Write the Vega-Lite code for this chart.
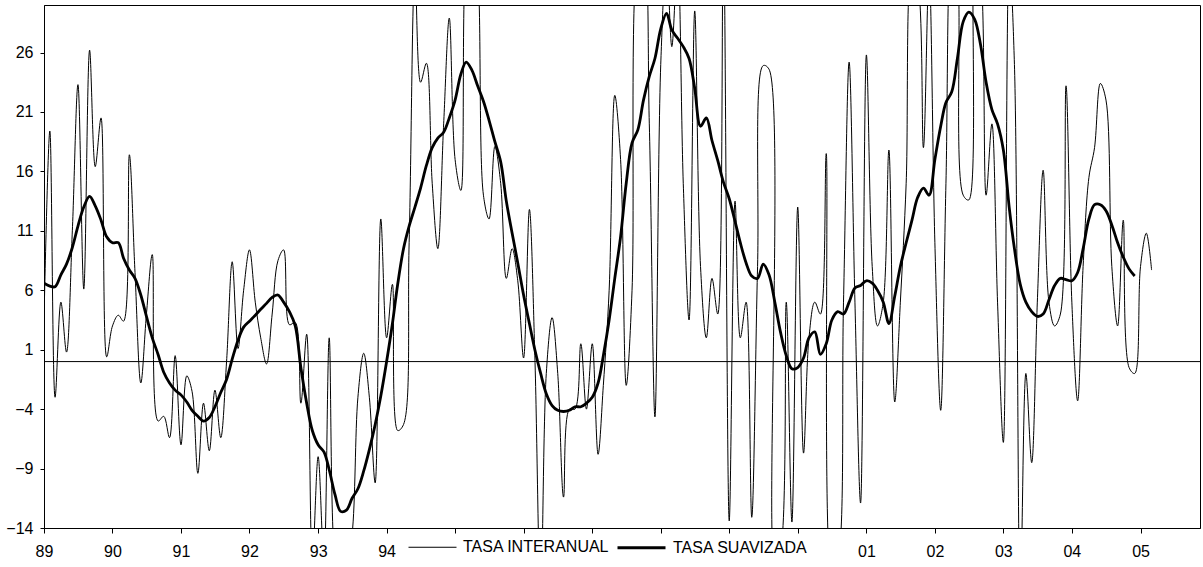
{
"$schema":"https://vega.github.io/schema/vega-lite/v6.json",
"width":1156,"height":523,
"autosize":{"type":"none"},
"padding":{"left":44,"top":5,"right":3,"bottom":39},
"background":"white",
"config":{"view":{"stroke":"#000","strokeWidth":1},"font":"Liberation Sans"},
"layer":[
{"data":{"values":[
{"fecha":"1989-01-01","interanual":3.5,"suavizada":6.6},
{"fecha":"1989-02-01","interanual":19.4,"suavizada":6.35},
{"fecha":"1989-03-01","interanual":-3.0,"suavizada":6.3},
{"fecha":"1989-04-01","interanual":5.0,"suavizada":7.3},
{"fecha":"1989-05-01","interanual":0.8,"suavizada":8.2},
{"fecha":"1989-06-01","interanual":11.0,"suavizada":9.6},
{"fecha":"1989-07-01","interanual":23.3,"suavizada":11.4},
{"fecha":"1989-08-01","interanual":6.1,"suavizada":13.0},
{"fecha":"1989-09-01","interanual":26.2,"suavizada":13.9},
{"fecha":"1989-10-01","interanual":16.4,"suavizada":13.1},
{"fecha":"1989-11-01","interanual":20.5,"suavizada":11.9},
{"fecha":"1989-12-01","interanual":0.4,"suavizada":10.5},
{"fecha":"1990-01-01","interanual":3.0,"suavizada":10.0},
{"fecha":"1990-02-01","interanual":3.9,"suavizada":10.0},
{"fecha":"1990-03-01","interanual":3.4,"suavizada":8.7},
{"fecha":"1990-04-01","interanual":17.4,"suavizada":7.7},
{"fecha":"1990-05-01","interanual":7.5,"suavizada":7.0},
{"fecha":"1990-06-01","interanual":-1.8,"suavizada":5.6},
{"fecha":"1990-07-01","interanual":4.0,"suavizada":3.8},
{"fecha":"1990-08-01","interanual":9.0,"suavizada":2.0},
{"fecha":"1990-09-01","interanual":-5.0,"suavizada":0.6},
{"fecha":"1990-10-01","interanual":-4.6,"suavizada":-0.9},
{"fecha":"1990-11-01","interanual":-6.4,"suavizada":-1.8},
{"fecha":"1990-12-01","interanual":0.5,"suavizada":-2.4},
{"fecha":"1991-01-01","interanual":-7.0,"suavizada":-2.8},
{"fecha":"1991-02-01","interanual":-1.2,"suavizada":-3.4},
{"fecha":"1991-03-01","interanual":-2.5,"suavizada":-4.1},
{"fecha":"1991-04-01","interanual":-9.4,"suavizada":-4.6},
{"fecha":"1991-05-01","interanual":-3.5,"suavizada":-5.0},
{"fecha":"1991-06-01","interanual":-7.5,"suavizada":-4.7},
{"fecha":"1991-07-01","interanual":-2.4,"suavizada":-3.8},
{"fecha":"1991-08-01","interanual":-6.4,"suavizada":-2.6},
{"fecha":"1991-09-01","interanual":0.0,"suavizada":-1.5},
{"fecha":"1991-10-01","interanual":8.4,"suavizada":0.2},
{"fecha":"1991-11-01","interanual":1.1,"suavizada":1.8},
{"fecha":"1991-12-01","interanual":6.0,"suavizada":2.9},
{"fecha":"1992-01-01","interanual":9.4,"suavizada":3.4},
{"fecha":"1992-02-01","interanual":5.0,"suavizada":3.9},
{"fecha":"1992-03-01","interanual":2.0,"suavizada":4.4},
{"fecha":"1992-04-01","interanual":-0.2,"suavizada":4.9},
{"fecha":"1992-05-01","interanual":4.0,"suavizada":5.4},
{"fecha":"1992-06-01","interanual":8.5,"suavizada":5.6},
{"fecha":"1992-07-01","interanual":9.4,"suavizada":5.0},
{"fecha":"1992-08-01","interanual":3.1,"suavizada":4.2},
{"fecha":"1992-09-01","interanual":3.3,"suavizada":3.0},
{"fecha":"1992-10-01","interanual":-3.5,"suavizada":-0.5},
{"fecha":"1992-11-01","interanual":2.3,"suavizada":-3.5},
{"fecha":"1992-12-01","interanual":-17,"suavizada":-5.8},
{"fecha":"1993-01-01","interanual":-8.0,"suavizada":-7.0},
{"fecha":"1993-02-01","interanual":-17,"suavizada":-7.6},
{"fecha":"1993-03-01","interanual":2.0,"suavizada":-9.1},
{"fecha":"1993-04-01","interanual":-17,"suavizada":-11.2},
{"fecha":"1993-05-01","interanual":-19,"suavizada":-12.6},
{"fecha":"1993-06-01","interanual":-17,"suavizada":-12.5},
{"fecha":"1993-07-01","interanual":-14.5,"suavizada":-11.5},
{"fecha":"1993-08-01","interanual":-3.0,"suavizada":-10.7},
{"fecha":"1993-09-01","interanual":0.7,"suavizada":-9.2},
{"fecha":"1993-10-01","interanual":-3.0,"suavizada":-7.4},
{"fecha":"1993-11-01","interanual":-10.2,"suavizada":-5.3},
{"fecha":"1993-12-01","interanual":12.0,"suavizada":-2.9},
{"fecha":"1994-01-01","interanual":2.0,"suavizada":0.0},
{"fecha":"1994-02-01","interanual":6.5,"suavizada":3.2},
{"fecha":"1994-03-01","interanual":-5.8,"suavizada":6.5},
{"fecha":"1994-04-01","interanual":-5.3,"suavizada":9.5},
{"fecha":"1994-05-01","interanual":10.0,"suavizada":11.4},
{"fecha":"1994-06-01","interanual":33,"suavizada":13.0},
{"fecha":"1994-07-01","interanual":23.5,"suavizada":14.6},
{"fecha":"1994-08-01","interanual":25.1,"suavizada":16.5},
{"fecha":"1994-09-01","interanual":15.0,"suavizada":18.0},
{"fecha":"1994-10-01","interanual":9.5,"suavizada":18.8},
{"fecha":"1994-11-01","interanual":20.0,"suavizada":19.3},
{"fecha":"1994-12-01","interanual":28.9,"suavizada":20.5},
{"fecha":"1995-01-01","interanual":17.0,"suavizada":22.0},
{"fecha":"1995-02-01","interanual":14.4,"suavizada":24.2},
{"fecha":"1995-03-01","interanual":34,"suavizada":25.2},
{"fecha":"1995-04-01","interanual":36,"suavizada":24.5},
{"fecha":"1995-05-01","interanual":33,"suavizada":23.2},
{"fecha":"1995-06-01","interanual":14.0,"suavizada":21.9},
{"fecha":"1995-07-01","interanual":12.0,"suavizada":20.3},
{"fecha":"1995-08-01","interanual":18.1,"suavizada":18.5},
{"fecha":"1995-09-01","interanual":15.0,"suavizada":16.8},
{"fecha":"1995-10-01","interanual":7.0,"suavizada":13.5},
{"fecha":"1995-11-01","interanual":9.5,"suavizada":10.8},
{"fecha":"1995-12-01","interanual":6.8,"suavizada":8.3},
{"fecha":"1996-01-01","interanual":0.3,"suavizada":5.6},
{"fecha":"1996-02-01","interanual":12.8,"suavizada":3.2},
{"fecha":"1996-03-01","interanual":0.5,"suavizada":1.0},
{"fecha":"1996-04-01","interanual":-20,"suavizada":-1.0},
{"fecha":"1996-05-01","interanual":-1.0,"suavizada":-2.7},
{"fecha":"1996-06-01","interanual":3.7,"suavizada":-3.7},
{"fecha":"1996-07-01","interanual":-1.0,"suavizada":-4.1},
{"fecha":"1996-08-01","interanual":-11.4,"suavizada":-4.2},
{"fecha":"1996-09-01","interanual":-4.0,"suavizada":-4.1},
{"fecha":"1996-10-01","interanual":-4.0,"suavizada":-3.8},
{"fecha":"1996-11-01","interanual":1.5,"suavizada":-3.8},
{"fecha":"1996-12-01","interanual":-4.0,"suavizada":-3.5},
{"fecha":"1997-01-01","interanual":1.5,"suavizada":-3.0},
{"fecha":"1997-02-01","interanual":-7.8,"suavizada":-1.8},
{"fecha":"1997-03-01","interanual":-2.0,"suavizada":0.5},
{"fecha":"1997-04-01","interanual":6.0,"suavizada":3.5},
{"fecha":"1997-05-01","interanual":22.4,"suavizada":7.0},
{"fecha":"1997-06-01","interanual":17.0,"suavizada":10.5},
{"fecha":"1997-07-01","interanual":-2.0,"suavizada":15.0},
{"fecha":"1997-08-01","interanual":6.0,"suavizada":18.4},
{"fecha":"1997-09-01","interanual":34,"suavizada":19.5},
{"fecha":"1997-10-01","interanual":35,"suavizada":22.0},
{"fecha":"1997-11-01","interanual":20,"suavizada":24.0},
{"fecha":"1997-12-01","interanual":-4.65,"suavizada":25.5},
{"fecha":"1998-01-01","interanual":25,"suavizada":28.0},
{"fecha":"1998-02-01","interanual":34,"suavizada":29.3},
{"fecha":"1998-03-01","interanual":26.5,"suavizada":27.9},
{"fecha":"1998-04-01","interanual":34,"suavizada":27.2},
{"fecha":"1998-05-01","interanual":15,"suavizada":26.5},
{"fecha":"1998-06-01","interanual":3.5,"suavizada":25.5},
{"fecha":"1998-07-01","interanual":29.5,"suavizada":23.0},
{"fecha":"1998-08-01","interanual":8,"suavizada":19.8},
{"fecha":"1998-09-01","interanual":2,"suavizada":20.5},
{"fecha":"1998-10-01","interanual":7,"suavizada":18.6},
{"fecha":"1998-11-01","interanual":4,"suavizada":16.9},
{"fecha":"1998-12-01","interanual":36,"suavizada":15.1},
{"fecha":"1999-01-01","interanual":-13.4,"suavizada":13.7},
{"fecha":"1999-02-01","interanual":13.5,"suavizada":11.8},
{"fecha":"1999-03-01","interanual":2,"suavizada":10.0},
{"fecha":"1999-04-01","interanual":5,"suavizada":8.3},
{"fecha":"1999-05-01","interanual":-13.1,"suavizada":7.2},
{"fecha":"1999-06-01","interanual":8,"suavizada":7.0},
{"fecha":"1999-07-01","interanual":24.9,"suavizada":8.2},
{"fecha":"1999-08-01","interanual":24.6,"suavizada":7.3},
{"fecha":"1999-09-01","interanual":-17,"suavizada":5.0},
{"fecha":"1999-10-01","interanual":-16,"suavizada":2.5},
{"fecha":"1999-11-01","interanual":5,"suavizada":0.5},
{"fecha":"1999-12-01","interanual":-13.5,"suavizada":-0.6},
{"fecha":"2000-01-01","interanual":13.0,"suavizada":-0.5},
{"fecha":"2000-02-01","interanual":-7.7,"suavizada":0.3},
{"fecha":"2000-03-01","interanual":2,"suavizada":2.0},
{"fecha":"2000-04-01","interanual":5,"suavizada":2.5},
{"fecha":"2000-05-01","interanual":4,"suavizada":0.6},
{"fecha":"2000-06-01","interanual":17.5,"suavizada":1.5},
{"fecha":"2000-07-01","interanual":-18,"suavizada":3.5},
{"fecha":"2000-08-01","interanual":-17,"suavizada":4.2},
{"fecha":"2000-09-01","interanual":5,"suavizada":4.0},
{"fecha":"2000-10-01","interanual":25.2,"suavizada":5.0},
{"fecha":"2000-11-01","interanual":5,"suavizada":6.2},
{"fecha":"2000-12-01","interanual":-11.9,"suavizada":6.4},
{"fecha":"2001-01-01","interanual":25.8,"suavizada":6.8},
{"fecha":"2001-02-01","interanual":8,"suavizada":6.6},
{"fecha":"2001-03-01","interanual":3,"suavizada":6.0},
{"fecha":"2001-04-01","interanual":5,"suavizada":5.0},
{"fecha":"2001-05-01","interanual":17.8,"suavizada":3.2},
{"fecha":"2001-06-01","interanual":-3.4,"suavizada":5.5},
{"fecha":"2001-07-01","interanual":5,"suavizada":8.0},
{"fecha":"2001-08-01","interanual":15,"suavizada":10.0},
{"fecha":"2001-09-01","interanual":33,"suavizada":11.9},
{"fecha":"2001-10-01","interanual":32,"suavizada":13.8},
{"fecha":"2001-11-01","interanual":18.0,"suavizada":14.6},
{"fecha":"2001-12-01","interanual":33,"suavizada":14.0},
{"fecha":"2002-01-01","interanual":10,"suavizada":17.0},
{"fecha":"2002-02-01","interanual":-4.1,"suavizada":19.8},
{"fecha":"2002-03-01","interanual":15,"suavizada":21.8},
{"fecha":"2002-04-01","interanual":35,"suavizada":22.7},
{"fecha":"2002-05-01","interanual":33,"suavizada":25.5},
{"fecha":"2002-06-01","interanual":14,"suavizada":28.6},
{"fecha":"2002-07-01","interanual":13.6,"suavizada":29.4},
{"fecha":"2002-08-01","interanual":35,"suavizada":28.8},
{"fecha":"2002-09-01","interanual":33,"suavizada":26.7},
{"fecha":"2002-10-01","interanual":14,"suavizada":23.5},
{"fecha":"2002-11-01","interanual":20.0,"suavizada":21.2},
{"fecha":"2002-12-01","interanual":5,"suavizada":20.0},
{"fecha":"2003-01-01","interanual":-6.8,"suavizada":17.8},
{"fecha":"2003-02-01","interanual":34,"suavizada":13.0},
{"fecha":"2003-03-01","interanual":25,"suavizada":9.5},
{"fecha":"2003-04-01","interanual":-20,"suavizada":6.5},
{"fecha":"2003-05-01","interanual":-1,"suavizada":5.0},
{"fecha":"2003-06-01","interanual":-8.5,"suavizada":4.2},
{"fecha":"2003-07-01","interanual":5,"suavizada":3.8},
{"fecha":"2003-08-01","interanual":16.1,"suavizada":4.0},
{"fecha":"2003-09-01","interanual":5,"suavizada":5.2},
{"fecha":"2003-10-01","interanual":3,"suavizada":6.4},
{"fecha":"2003-11-01","interanual":4,"suavizada":7.0},
{"fecha":"2003-12-01","interanual":23.2,"suavizada":6.9},
{"fecha":"2004-01-01","interanual":5,"suavizada":6.8},
{"fecha":"2004-02-01","interanual":-3.3,"suavizada":7.5},
{"fecha":"2004-03-01","interanual":8,"suavizada":9.5},
{"fecha":"2004-04-01","interanual":15.5,"suavizada":12.0},
{"fecha":"2004-05-01","interanual":18.0,"suavizada":13.2},
{"fecha":"2004-06-01","interanual":23.4,"suavizada":13.2},
{"fecha":"2004-07-01","interanual":22.0,"suavizada":12.7},
{"fecha":"2004-08-01","interanual":8,"suavizada":11.5},
{"fecha":"2004-09-01","interanual":3,"suavizada":10.0},
{"fecha":"2004-10-01","interanual":11.9,"suavizada":8.8},
{"fecha":"2004-11-01","interanual":-0.5,"suavizada":7.8},
{"fecha":"2004-12-01","interanual":-1.0,"suavizada":7.2},
{"fecha":"2005-01-01","interanual":8,"suavizada":null},
{"fecha":"2005-02-01","interanual":10.8,"suavizada":null},
{"fecha":"2005-03-01","interanual":7.7,"suavizada":null}
]},
"transform":[{"fold":["interanual","suavizada"],"as":["serie","valor"]}],
"mark":{"type":"line","color":"#000","interpolate":"catmull-rom","clip":true},
"encoding":{
"x":{"field":"fecha","type":"temporal","scale":{"type":"utc","domain":[{"year":1989,"month":1,"date":1,"utc":true},{"year":2005,"month":11,"date":14,"utc":true}]},
"axis":{"title":null,"tickCount":{"interval":"year","step":1},"labelExpr":"utcyear(datum.value) >= 1995 && utcyear(datum.value) <= 2000 ? '' : utcFormat(datum.value, '%y')","tickSize":5,"labelPadding":10,"labelFontSize":16,"labelFont":"Liberation Sans","labelColor":"#000","domainColor":"#000","tickColor":"#000","grid":false,"labelFlush":false,"labelOverlap":false}},
"y":{"field":"valor","type":"quantitative","scale":{"domain":[-14,30],"nice":false,"zero":false},
"axis":{"title":null,"values":[-14,-9,-4,1,6,11,16,21,26],"tickSize":4,"labelPadding":7,"labelFontSize":16,"labelFont":"Liberation Sans","labelColor":"#000","domainColor":"#000","tickColor":"#000","grid":false}},
"strokeWidth":{"field":"serie","type":"nominal","scale":{"domain":["interanual","suavizada"],"range":[1,2.8]},
"legend":{"orient":"none","legendX":364,"legendY":517,"direction":"horizontal","title":null,"symbolType":"stroke","symbolSize":2304,"symbolStrokeColor":"#000","labelFontSize":16,"labelFont":"Liberation Sans","labelColor":"#000","labelOffset":6,"columnPadding":1,"padding":0,"labelExpr":"datum.label == 'interanual' ? 'TASA INTERANUAL' : 'TASA SUAVIZADA'"}}
}},
{"data":{"values":[{}]},
"mark":{"type":"rule","color":"#000","strokeWidth":1},
"encoding":{"y":{"datum":0,"type":"quantitative","title":null}}}
]
}
